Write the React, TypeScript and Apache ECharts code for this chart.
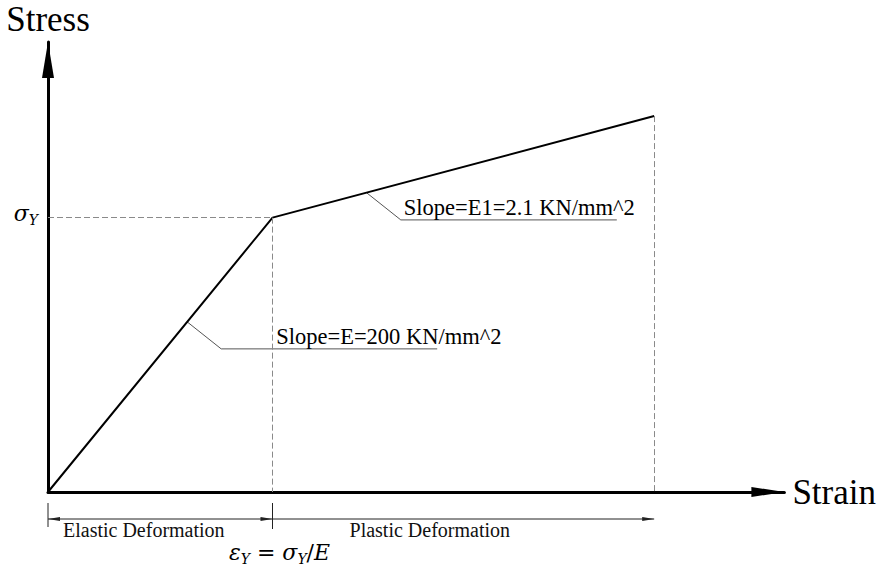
import React, { useEffect, useRef } from 'react';
import * as echarts from 'echarts';

// Schematic stress–strain curve (normalised: yield point = 1, 1)
const strainPoints = [0, 1, 2.7];
const stressPoints = [0, 1, 1.37];
const strainAxisRange = [0, 3.28];
const stressAxisRange = [0, 1.64];
const axisTitles = ['Strain', 'Stress'];
const yieldStrain = [1];
const yieldStress = [1];
const slopeAnchors = [
  [0.62, 0.62],
  [1.42, 1.09],
];
const slopeTexts = ['Slope=E=200 KN/mm^2', 'Slope=E1=2.1 KN/mm^2'];
const regionSpans = [
  [0, 1],
  [1, 2.7],
];
const regionNames = ['Elastic Deformation', 'Plastic Deformation'];

// styling / layout (pixels)
const slopeLayout = [{ textDx: 55 }, { textDx: 3 }];
const regionLayout = [
  { textDx: 15, tickStart: true, tickEnd: true, arrowStart: true, arrowEnd: true },
  { textDx: 77, tickStart: true, tickEnd: false, arrowStart: false, arrowEnd: true },
];

const SERIF = 'Liberation Serif';
const MATH = 'DejaVu Serif';

const mathRich = {
  m: { fontFamily: MATH, fontStyle: 'italic', fontSize: 22, color: '#000', verticalAlign: 'middle' },
  u: { fontFamily: MATH, fontSize: 22, color: '#000', verticalAlign: 'middle' },
  s: {
    fontFamily: MATH,
    fontStyle: 'italic',
    fontSize: 14,
    color: '#000',
    padding: [13, 0, 0, 0],
    verticalAlign: 'middle',
  },
};

export default function App() {
  const ref = useRef<HTMLDivElement>(null);

  useEffect(() => {
    if (!ref.current) return;
    const chart = echarts.init(ref.current, null, { renderer: 'svg' });
    const n = strainPoints.length;
    const curve = strainPoints.map((x, i) => [x, stressPoints[i]]);
    const last = n - 1;

    const option: any = {
      animation: false,
      backgroundColor: '#fff',
      grid: { left: 48, top: 42, right: 94, bottom: 79, containLabel: false },
      xAxis: {
        type: 'value',
        min: strainAxisRange[0],
        max: strainAxisRange[1],
        name: axisTitles[0],
        nameLocation: 'end',
        nameGap: 8,
        nameTextStyle: {
          fontFamily: SERIF,
          fontSize: 35,
          color: '#000',
          verticalAlign: 'middle',
          padding: [17, 0, 0, 0],
        },
        axisLine: {
          show: true,
          onZero: false,
          symbol: ['none', 'triangle'],
          symbolSize: [10, 33],
          symbolOffset: [0, -16.5],
          lineStyle: { color: '#000', width: 3 },
        },
        axisTick: { show: false },
        splitLine: { show: false },
        axisLabel: {
          show: true,
          customValues: yieldStrain,
          margin: 47,
          padding: [0, 0, 0, 14],
          formatter: () => '{m|ε}{s|Y}{u| = }{m|σ}{s|Y}{u|/}{m|E}',
          rich: mathRich,
        },
      },
      yAxis: {
        type: 'value',
        min: stressAxisRange[0],
        max: stressAxisRange[1],
        name: axisTitles[1],
        nameLocation: 'end',
        nameGap: 5,
        nameTextStyle: { fontFamily: SERIF, fontSize: 35, color: '#000' },
        axisLine: {
          show: true,
          onZero: false,
          symbol: ['none', 'triangle'],
          symbolSize: [12, 36],
          symbolOffset: [0, -18],
          lineStyle: { color: '#000', width: 3 },
        },
        axisTick: { show: false },
        splitLine: { show: false },
        axisLabel: {
          show: true,
          customValues: yieldStress,
          margin: 10,
          padding: [0, 0, 8, 0],
          formatter: () => '{m|σ}{s|Y}',
          rich: mathRich,
        },
      },
      series: [
        {
          type: 'line',
          data: curve,
          symbol: 'none',
          clip: false,
          silent: true,
          lineStyle: { color: '#000', width: 2 },
          markLine: {
            silent: true,
            symbol: ['none', 'none'],
            label: { show: false },
            lineStyle: { color: '#8a8a8a', width: 1, type: [6, 3] },
            emphasis: { disabled: true },
            data: [
              [{ coord: [strainAxisRange[0], stressPoints[1]] }, { coord: [strainPoints[1], stressPoints[1]] }],
              [{ coord: [strainPoints[1], stressPoints[1]] }, { coord: [strainPoints[1], stressAxisRange[0]] }],
              [{ coord: [strainPoints[last], stressPoints[last]] }, { coord: [strainPoints[last], stressAxisRange[0]] }],
            ],
          },
          z: 3,
        },
        {
          type: 'custom',
          clip: false,
          silent: true,
          data: slopeAnchors,
          renderItem: (params: any, api: any) => {
            const i = params.dataIndex;
            const p = api.coord([api.value(0), api.value(1)]);
            const kx = p[0] + 34;
            const ky = p[1] + 27;
            return {
              type: 'group',
              children: [
                {
                  type: 'polyline',
                  shape: { points: [p, [kx, ky], [kx + 216, ky]] },
                  style: { stroke: '#555', lineWidth: 1, fill: null },
                },
                {
                  type: 'text',
                  x: kx + slopeLayout[i].textDx,
                  y: ky - 12,
                  style: {
                    text: slopeTexts[i],
                    fontFamily: SERIF,
                    fontSize: 22.5,
                    fill: '#000',
                    align: 'left',
                    verticalAlign: 'middle',
                  },
                },
              ],
            };
          },
        },
        {
          type: 'custom',
          clip: false,
          silent: true,
          data: regionSpans,
          renderItem: (params: any, api: any) => {
            const i = params.dataIndex;
            const L = regionLayout[i];
            const a = api.coord([api.value(0), stressAxisRange[0]]);
            const b = api.coord([api.value(1), stressAxisRange[0]]);
            const y = a[1] + 27;
            const col = '#222';
            const children: any[] = [
              { type: 'line', shape: { x1: a[0], y1: y, x2: b[0], y2: y }, style: { stroke: col, lineWidth: 1 } },
            ];
            if (L.tickStart)
              children.push({ type: 'line', shape: { x1: a[0], y1: a[1] + 11, x2: a[0], y2: a[1] + 35 }, style: { stroke: col, lineWidth: 1 } });
            if (L.tickEnd)
              children.push({ type: 'line', shape: { x1: b[0], y1: a[1] + 11, x2: b[0], y2: a[1] + 37 }, style: { stroke: col, lineWidth: 1 } });
            if (L.arrowStart)
              children.push({ type: 'polygon', shape: { points: [[a[0], y], [a[0] + 12, y - 2], [a[0] + 12, y + 2]] }, style: { fill: col } });
            if (L.arrowEnd)
              children.push({ type: 'polygon', shape: { points: [[b[0], y], [b[0] - 12, y - 2], [b[0] - 12, y + 2]] }, style: { fill: col } });
            children.push({
              type: 'text',
              x: a[0] + L.textDx,
              y: y + 11,
              style: {
                text: regionNames[i],
                fontFamily: SERIF,
                fontSize: 20,
                fill: '#111',
                align: 'left',
                verticalAlign: 'middle',
              },
            });
            return { type: 'group', children };
          },
        },
      ],
    };

    chart.setOption(option);
    return () => chart.dispose();
  }, []);

  return (
    <div
      ref={ref}
      style={{ position: 'fixed', left: 0, top: 0, width: 879, height: 571, background: '#fff' }}
    />
  );
}
